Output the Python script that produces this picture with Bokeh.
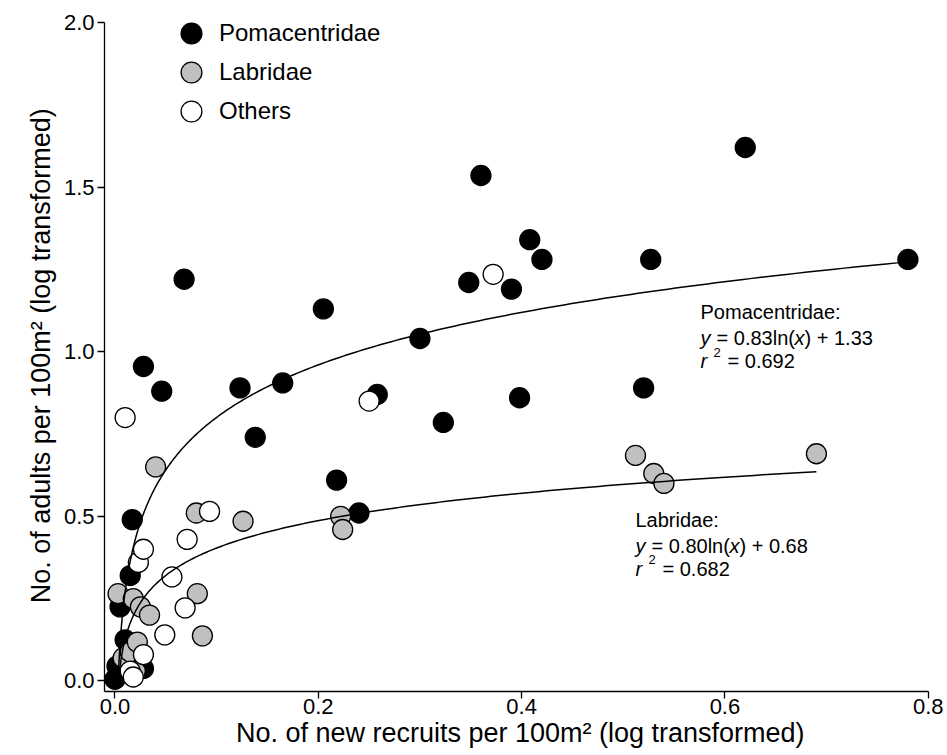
import numpy as np
from bokeh.plotting import figure
from bokeh.models import Range1d, Legend, LegendItem, Label, FixedTicker, NumeralTickFormatter
from bokeh.embed import file_html
from bokeh.resources import INLINE

FONT = "Liberation Sans"

# Recruits (x) and adults (y) per 100 m2, both log transformed
poma_x = [0.000, 0.002, 0.005, 0.010, 0.015, 0.017, 0.028, 0.028, 0.046, 0.068,
          0.123, 0.138, 0.165, 0.205, 0.218, 0.240, 0.258, 0.300, 0.323, 0.348,
          0.360, 0.390, 0.398, 0.408, 0.420, 0.520, 0.527, 0.620, 0.780]
poma_y = [0.005, 0.045, 0.225, 0.125, 0.320, 0.490, 0.038, 0.955, 0.880, 1.220,
          0.890, 0.740, 0.905, 1.130, 0.610, 0.510, 0.870, 1.040, 0.785, 1.210,
          1.535, 1.190, 0.860, 1.340, 1.280, 0.890, 1.280, 1.620, 1.280]

labr_x = [0.003, 0.008, 0.015, 0.018, 0.020, 0.022, 0.025, 0.034, 0.040, 0.080,
          0.081, 0.086, 0.126, 0.222, 0.224, 0.512, 0.530, 0.540, 0.690]
labr_y = [0.265, 0.070, 0.088, 0.250, 0.030, 0.118, 0.225, 0.200, 0.650, 0.510,
          0.265, 0.137, 0.485, 0.500, 0.460, 0.685, 0.630, 0.600, 0.690]

oth_x = [0.010, 0.015, 0.018, 0.023, 0.028, 0.028, 0.049, 0.056, 0.069, 0.071,
         0.093, 0.250, 0.372]
oth_y = [0.800, 0.030, 0.012, 0.360, 0.400, 0.080, 0.140, 0.316, 0.222, 0.430,
         0.515, 0.850, 1.235]

x_ticks = [0.0, 0.2, 0.4, 0.6, 0.8]
y_ticks = [0.0, 0.5, 1.0, 1.5, 2.0]

# Logarithmic fits y = slope*ln(x) + intercept, as plotted
poma_fit = {"slope": 0.23, "intercept": 1.33}
labr_fit = {"slope": 0.12, "intercept": 0.68}

# Annotation texts for the two fits
poma_note = {"name": "Pomacentridae", "slope": "0.83", "intercept": "1.33", "r2": "0.692"}
labr_note = {"name": "Labridae", "slope": "0.80", "intercept": "0.68", "r2": "0.682"}

# Small margin below/left of zero so markers sitting on zero are not cut
X0, Y0 = -0.0103, -0.032
p = figure(width=947, height=755, output_backend="svg", toolbar_location=None,
           x_range=Range1d(X0, 0.815), y_range=Range1d(Y0, 2.03),
           min_border_left=104, min_border_right=4, min_border_top=12,
           min_border_bottom=64)
p.outline_line_color = None
p.grid.visible = False
p.background_fill_color = "white"
p.border_fill_color = "white"

r_poma = p.scatter(poma_x, poma_y, size=20, fill_color="black",
                   line_color="black", line_width=1.3)
r_labr = p.scatter(labr_x, labr_y, size=20, fill_color="#c0c0c0",
                   line_color="black", line_width=1.3)
r_oth = p.scatter(oth_x, oth_y, size=20, fill_color="white",
                  line_color="black", line_width=1.3)


def fit_curve(fit, xs):
    x0 = np.exp(-fit["intercept"] / fit["slope"])
    xx = np.geomspace(x0, max(xs), 400)
    return xx, fit["slope"] * np.log(xx) + fit["intercept"]


for fit, xs in ((poma_fit, poma_x), (labr_fit, labr_x)):
    cx, cy = fit_curve(fit, xs)
    p.line(cx, cy, line_color="black", line_width=1.5)

p.xaxis.ticker = FixedTicker(ticks=x_ticks)
p.yaxis.ticker = FixedTicker(ticks=y_ticks)
p.xaxis.bounds = (X0, x_ticks[-1])
p.yaxis.bounds = (Y0, y_ticks[-1])
for ax in (p.xaxis, p.yaxis):
    ax.formatter = NumeralTickFormatter(format="0.0")
    ax.axis_line_width = 1.3
    ax.axis_line_color = "black"
    ax.major_tick_line_width = 1.3
    ax.major_tick_line_color = "black"
    ax.major_tick_out = 7
    ax.major_tick_in = 0
    ax.minor_tick_out = 0
    ax.minor_tick_in = 0
    ax.major_label_text_font = FONT
    ax.major_label_text_font_size = "22px"
    ax.major_label_text_color = "black"
    ax.axis_label_text_font = FONT
    ax.axis_label_text_font_size = "27px"
    ax.axis_label_text_font_style = "normal"
    ax.axis_label_text_color = "black"
p.xaxis.major_label_standoff = 0
p.yaxis.major_label_standoff = 3
p.xaxis.axis_label = "No. of new recruits per 100m\u00b2  (log transformed)"
p.yaxis.axis_label = "No. of adults per 100m\u00b2  (log transformed)"
p.xaxis.axis_label_standoff = 1
p.yaxis.axis_label_standoff = 5

# One legend box per group so the rows can sit closer than the marker box
groups = [("Pomacentridae", r_poma), ("Labridae", r_labr), ("Others", r_oth)]
legend_rows_y = [632, 593, 554]
for (name, rend), ly in zip(groups, legend_rows_y):
    p.add_layout(Legend(items=[LegendItem(label=name, renderers=[rend])],
                        location=(61, ly), glyph_width=52, glyph_height=52,
                        padding=0, margin=0, label_standoff=2,
                        label_text_font=FONT, label_text_font_size="24px",
                        label_text_color="black", border_line_color=None,
                        background_fill_alpha=0))


def add_note(x, y, note):
    base = dict(x=x, y=y, text_font=FONT, text_font_size="20px", text_color="black",
                text_align="left", text_baseline="alphabetic")
    p.add_layout(Label(text=note["name"] + ":", **base))
    pieces = [("y", "italic", 0), ("= " + note["slope"] + "ln(", "normal", 16),
              ("x", "italic", 94), (") + " + note["intercept"], "normal", 104)]
    for txt, style, dx in pieces:
        p.add_layout(Label(text=txt, text_font_style=style, x_offset=dx, y_offset=-26, **base))
    p.add_layout(Label(text="r", text_font_style="italic", y_offset=-49, **base))
    sup = dict(base)
    sup["text_font_size"] = "13px"
    p.add_layout(Label(text="2", x_offset=13, y_offset=-40, **sup))
    p.add_layout(Label(text="= " + note["r2"], x_offset=27, y_offset=-49, **base))


add_note(0.576, 1.120, poma_note)
add_note(0.512, 0.489, labr_note)

open("out.html", "w").write(file_html(p, INLINE))
